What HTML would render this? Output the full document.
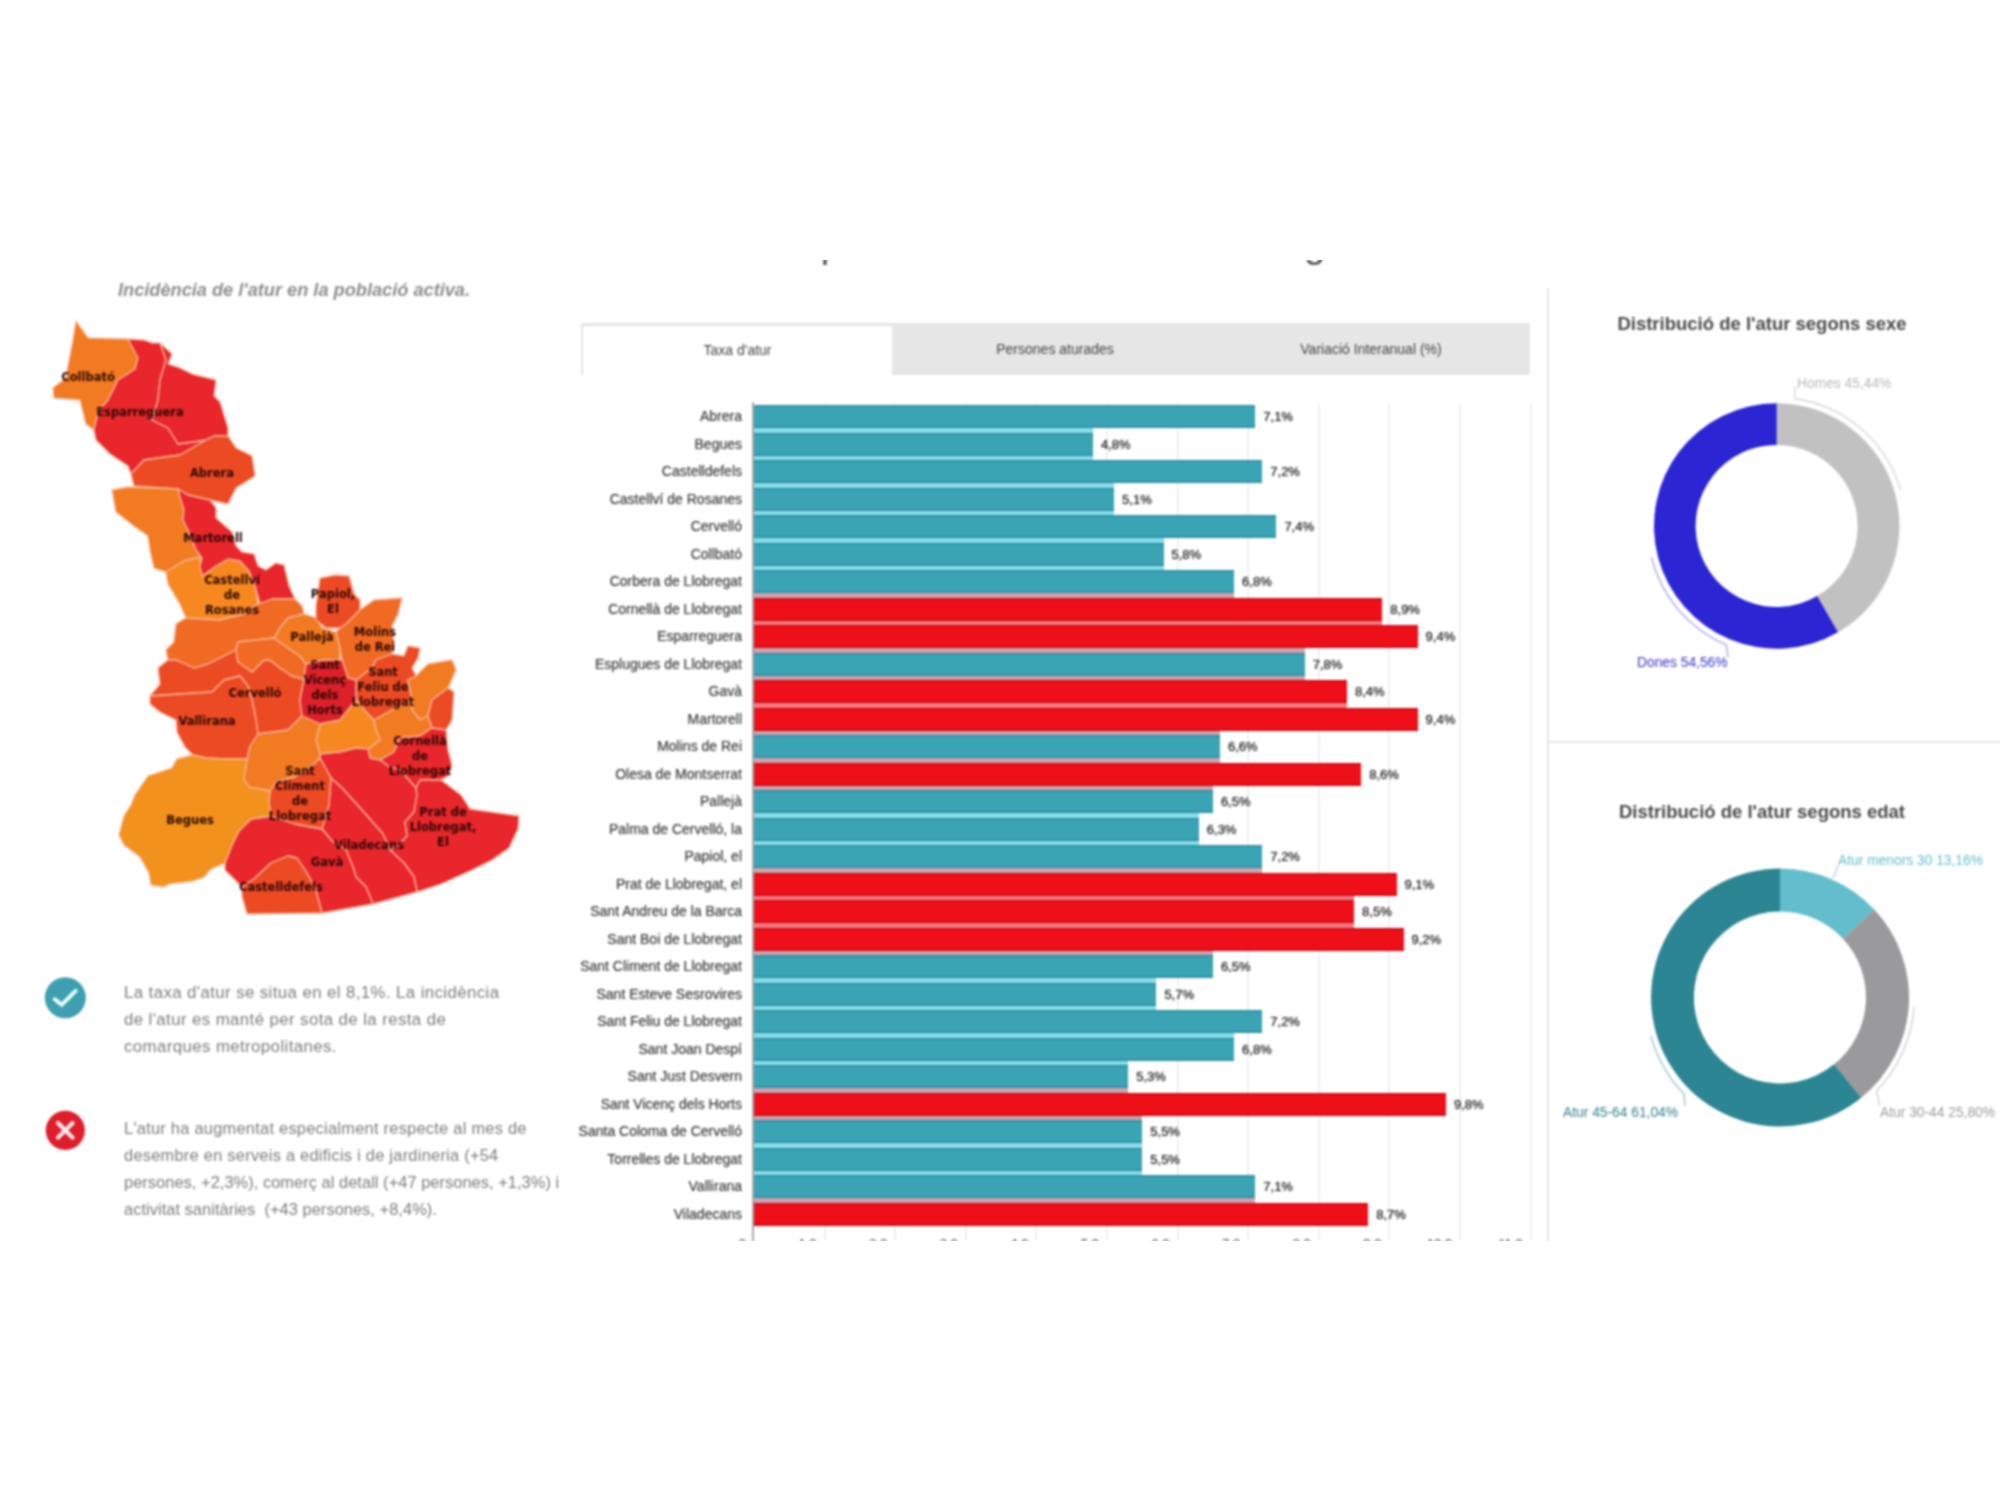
<!DOCTYPE html>
<html lang="ca"><head><meta charset="utf-8"><title>Atur Baix Llobregat</title>
<style>
html,body{margin:0;padding:0;background:#fff;}
body{width:2000px;height:1500px;position:relative;overflow:hidden;font-family:"Liberation Sans",sans-serif;color:#444;}
#stage{position:absolute;left:0;top:260px;width:2000px;height:981px;overflow:hidden;}
#inner{position:absolute;left:0;top:-260px;width:2000px;height:1500px;filter:blur(1.3px);}
.abs{position:absolute;}
#toptitle{left:778px;top:221.8px;width:800px;text-align:left;font-size:38.4px;line-height:44px;color:#555;white-space:nowrap;}
#subtitle{left:118px;top:279.5px;font-size:18.2px;font-style:italic;font-weight:bold;color:#8e8e8e;white-space:nowrap;}
#map{left:0;top:0;}
#map text{font-family:"DejaVu Sans","Liberation Sans",sans-serif;font-size:11.5px;font-weight:bold;fill:#2a0805;text-anchor:middle;}
#map polygon{stroke:#F8B59A;stroke-width:1.3;stroke-linejoin:round;}
.note{left:124px;width:470px;font-size:16.8px;letter-spacing:0.42px;line-height:27px;color:#7c7c7c;white-space:nowrap;}
#n2{font-size:16.4px;letter-spacing:0.26px;}
#n2 span{letter-spacing:0.05px;}
#tabs{left:581px;top:323px;width:949px;height:52px;background:#E6E6E6;}
#tabs .t{position:absolute;top:0;height:52px;line-height:52px;text-align:center;font-size:14px;color:#444;}
#tabs .t.on{background:#fff;left:1px;top:2px;width:310px;height:50px;line-height:48px;border:1.5px solid #e2e2e2;border-bottom:none;border-right:none;box-sizing:border-box;}
.row{position:absolute;left:0;height:23px;width:1560px;}
.row .lab{position:absolute;right:818px;top:0;line-height:23px;font-size:14px;color:#3c3c3c;text-shadow:0 0 1px rgba(60,60,60,.5);white-space:nowrap;}
.row .b{position:absolute;left:754px;top:0;height:23px;background:#3AA4B5;box-shadow:inset 0 2px 0 rgba(0,50,70,.15),inset 0 -2px 0 rgba(0,50,70,.15);}
.row .b.r{background:#EF0F18;box-shadow:inset 0 2px 0 rgba(120,0,20,.22),inset 0 -2px 0 rgba(120,0,20,.22);}
.gap{position:absolute;left:754px;height:5.5px;}
.row .val{position:absolute;top:0;line-height:23px;font-size:13px;color:#262626;text-shadow:0 0 1px rgba(40,40,40,.7);}
.grid{position:absolute;top:404px;height:836px;width:2px;background:#EFEFEF;}
#yaxis{left:752px;top:402px;width:2px;height:840px;background:#a8a8a8;}
.tick{position:absolute;top:1235.5px;width:40px;text-align:right;font-size:13px;line-height:16px;color:#555;}
#vline{left:1547px;top:288px;width:2px;height:954px;background:#E6E6E6;}
#hline{left:1548px;top:741px;width:452px;height:2px;background:#E6E6E6;}
.dt{position:absolute;left:1548px;width:428px;text-align:center;font-size:18.5px;font-weight:bold;color:#4a4a4a;white-space:nowrap;}
#donuts text{font-family:"Liberation Sans",sans-serif;font-size:13.8px;}
</style></head><body>
<div id="stage"><div id="inner">
<div class="abs" id="toptitle">Impacte de l'atur al Baix Llobregat</div>
<div class="abs" id="subtitle">Incidència de l'atur en la població activa.</div>
<svg class="abs" id="map" width="600" height="960" viewBox="0 0 600 960">
<polygon points="76.0,321.0 88.0,338.0 128.0,339.0 138.0,358.0 135.0,369.0 118.0,380.0 108.0,400.0 98.0,412.0 94.0,430.0 86.0,424.0 80.0,400.0 54.0,398.0 53.0,388.0 66.0,378.0 68.0,366.0 73.0,340.0" fill="#F27A21"/>
<polygon points="128.0,339.0 144.0,340.0 152.0,343.0 160.0,343.0 166.0,360.0 160.0,380.0 158.0,400.0 152.0,420.0 168.0,428.0 178.0,444.0 206.0,440.0 180.0,455.0 144.0,460.0 131.0,474.0 128.0,466.0 110.0,454.0 96.0,440.0 94.0,430.0 98.0,412.0 108.0,400.0 118.0,380.0 135.0,369.0 138.0,358.0" fill="#E8262B"/>
<polygon points="160.0,343.0 172.0,354.0 168.0,364.0 180.0,368.0 192.0,374.0 216.0,380.0 214.0,396.0 220.0,402.0 228.0,428.0 228.0,436.0 214.0,436.0 206.0,440.0 178.0,444.0 168.0,428.0 152.0,420.0 158.0,400.0 160.0,380.0 166.0,360.0" fill="#E8262B"/>
<polygon points="214.0,436.0 228.0,436.0 236.0,448.0 252.0,456.0 255.0,476.0 236.0,488.0 228.0,504.0 210.0,500.0 188.0,495.0 178.0,489.0 134.0,486.0 131.0,474.0 144.0,460.0 180.0,455.0 206.0,440.0" fill="#EC4A23"/>
<polygon points="112.0,490.0 128.0,487.0 178.0,489.0 180.0,497.0 184.0,510.0 183.0,520.0 188.0,530.0 196.0,550.0 202.0,558.0 200.0,566.0 200.0,557.0 184.0,561.0 166.0,572.0 154.0,568.0 150.0,550.0 148.0,536.0 134.0,526.0 116.0,512.0" fill="#F27A21"/>
<polygon points="166.0,572.0 184.0,561.0 200.0,557.0 202.0,576.0 216.0,566.0 228.0,559.0 240.0,561.0 249.0,571.0 255.0,586.0 258.0,604.0 244.0,614.0 220.0,620.0 186.0,618.0 180.0,604.0 168.0,584.0" fill="#F6881F"/>
<polygon points="178.0,489.0 188.0,495.0 210.0,500.0 216.0,508.0 216.0,518.0 232.0,532.0 236.0,546.0 242.0,552.0 254.0,554.0 258.0,566.0 266.0,570.0 276.0,563.0 284.0,565.0 289.0,586.0 295.0,599.0 272.0,599.0 260.0,604.0 255.0,586.0 249.0,571.0 240.0,561.0 228.0,559.0 216.0,566.0 202.0,576.0 200.0,566.0 202.0,558.0 196.0,550.0 188.0,530.0 183.0,520.0 184.0,510.0 180.0,497.0" fill="#E8262B"/>
<polygon points="176.0,624.0 186.0,618.0 220.0,620.0 244.0,614.0 258.0,604.0 272.0,599.0 295.0,599.0 302.0,606.0 304.0,614.0 288.0,618.0 280.0,628.0 274.0,638.0 238.0,642.0 236.0,650.0 220.0,658.0 208.0,664.0 194.0,668.0 176.0,660.0 168.0,660.0 166.0,650.0 174.0,642.0" fill="#F16A23"/>
<polygon points="158.0,668.0 168.0,660.0 176.0,660.0 194.0,668.0 208.0,664.0 220.0,658.0 236.0,650.0 238.0,662.0 252.0,672.0 264.0,660.0 270.0,660.0 280.0,668.0 292.0,676.0 300.0,678.0 304.0,680.0 300.0,700.0 302.0,716.0 288.0,730.0 258.0,734.0 256.0,720.0 252.0,700.0 248.0,686.0 240.0,676.0 224.0,680.0 212.0,692.0 150.0,696.0 160.0,684.0" fill="#EC4A23"/>
<polygon points="238.0,642.0 274.0,638.0 288.0,648.0 300.0,656.0 306.0,664.0 304.0,680.0 300.0,678.0 292.0,676.0 280.0,668.0 270.0,660.0 264.0,660.0 252.0,672.0 238.0,662.0 236.0,650.0" fill="#F16A23"/>
<polygon points="280.0,628.0 288.0,618.0 304.0,614.0 316.0,618.0 322.0,628.0 336.0,632.0 340.0,648.0 340.0,660.0 324.0,660.0 306.0,664.0 300.0,656.0 288.0,648.0 274.0,638.0" fill="#F27A21"/>
<polygon points="316.0,606.0 320.0,578.0 336.0,575.0 349.0,576.0 354.0,594.0 360.0,600.0 360.0,610.0 346.0,624.0 340.0,628.0 326.0,628.0 316.0,620.0" fill="#EC4A23"/>
<polygon points="360.0,610.0 374.0,600.0 402.0,598.0 398.0,614.0 392.0,626.0 394.0,644.0 392.0,654.0 376.0,660.0 372.0,668.0 356.0,680.0 348.0,678.0 342.0,660.0 340.0,648.0 336.0,632.0 340.0,628.0 346.0,624.0" fill="#F16A23"/>
<polygon points="376.0,660.0 392.0,654.0 404.0,656.0 408.0,646.0 420.0,648.0 418.0,658.0 412.0,668.0 416.0,676.0 408.0,680.0 412.0,700.0 392.0,710.0 374.0,720.0 368.0,714.0 356.0,700.0 356.0,680.0 372.0,668.0" fill="#EC4A23"/>
<polygon points="416.0,676.0 428.0,664.0 452.0,660.0 456.0,670.0 448.0,688.0 432.0,700.0 428.0,716.0 420.0,720.0 412.0,710.0 412.0,700.0 408.0,680.0" fill="#F27A21"/>
<polygon points="448.0,688.0 454.0,692.0 452.0,720.0 446.0,730.0 432.0,728.0 428.0,716.0 432.0,700.0" fill="#EC4A23"/>
<polygon points="374.0,720.0 392.0,710.0 412.0,700.0 412.0,710.0 420.0,720.0 428.0,716.0 432.0,728.0 420.0,736.0 400.0,738.0 394.0,752.0 380.0,760.0 370.0,758.0 368.0,749.0 380.0,740.0 376.0,730.0" fill="#F27A21"/>
<polygon points="306.0,664.0 324.0,660.0 340.0,660.0 342.0,660.0 348.0,678.0 356.0,680.0 356.0,700.0 348.0,710.0 340.0,720.0 320.0,724.0 302.0,716.0 300.0,700.0 304.0,680.0" fill="#DD2029"/>
<polygon points="320.0,724.0 340.0,720.0 348.0,710.0 356.0,700.0 368.0,714.0 374.0,720.0 376.0,730.0 380.0,740.0 368.0,749.0 356.0,748.0 340.0,752.0 320.0,754.0 316.0,740.0" fill="#F6881F"/>
<polygon points="394.0,752.0 400.0,738.0 420.0,736.0 432.0,728.0 446.0,730.0 448.0,750.0 452.0,766.0 448.0,776.0 440.0,780.0 420.0,780.0 416.0,788.0 400.0,770.0 388.0,766.0 380.0,760.0" fill="#E8262B"/>
<polygon points="320.0,754.0 340.0,752.0 356.0,748.0 368.0,749.0 370.0,758.0 380.0,760.0 388.0,766.0 400.0,770.0 416.0,788.0 417.0,795.0 414.0,812.0 405.0,822.0 407.0,836.0 399.0,845.0 390.0,850.0 383.0,834.0 361.0,809.0 342.0,788.0 331.0,778.0 320.0,758.0" fill="#E8262B"/>
<polygon points="416.0,788.0 420.0,780.0 441.0,780.0 461.0,795.0 470.0,809.0 519.0,816.0 518.0,829.0 509.0,848.0 492.0,860.0 472.0,870.0 441.0,884.0 417.0,892.0 414.0,877.0 404.0,863.0 390.0,850.0 399.0,845.0 407.0,836.0 405.0,822.0 414.0,812.0 417.0,795.0" fill="#E8262B"/>
<polygon points="331.0,778.0 342.0,788.0 361.0,809.0 383.0,834.0 390.0,850.0 404.0,863.0 414.0,877.0 417.0,892.0 373.0,904.0 366.0,887.0 356.0,877.0 353.0,867.0 346.0,850.0 332.0,841.0 322.0,829.0 329.0,805.0" fill="#E8262B"/>
<polygon points="251.0,819.0 271.0,816.0 295.0,824.0 322.0,829.0 332.0,841.0 346.0,850.0 353.0,867.0 356.0,877.0 366.0,887.0 373.0,904.0 322.0,913.0 315.0,887.0 305.0,870.0 297.0,858.0 288.0,856.0 271.0,863.0 254.0,879.0 242.0,887.0 225.0,870.0 225.0,863.0 232.0,845.0 239.0,831.0" fill="#E8262B"/>
<polygon points="242.0,887.0 254.0,879.0 271.0,863.0 288.0,856.0 297.0,858.0 305.0,870.0 315.0,887.0 322.0,913.0 247.0,914.0 242.0,896.0" fill="#EC4A23"/>
<polygon points="270.0,791.0 276.0,782.0 295.0,777.0 315.0,763.0 320.0,758.0 331.0,778.0 329.0,805.0 322.0,829.0 295.0,824.0 271.0,816.0 269.0,802.0" fill="#EC4A23"/>
<polygon points="258.0,734.0 288.0,730.0 302.0,716.0 320.0,724.0 316.0,740.0 320.0,754.0 320.0,758.0 315.0,763.0 295.0,777.0 276.0,782.0 270.0,791.0 249.0,787.0 244.0,779.0 247.0,759.0 250.0,746.0" fill="#F27A21"/>
<polygon points="150.0,696.0 212.0,692.0 224.0,680.0 240.0,676.0 248.0,686.0 252.0,700.0 256.0,720.0 258.0,734.0 250.0,746.0 247.0,759.0 224.0,759.0 206.0,758.0 193.0,755.0 185.0,747.0 177.0,732.0 176.0,720.0 160.0,712.0 150.0,704.0" fill="#EC4A23"/>
<polygon points="177.0,759.0 193.0,755.0 206.0,758.0 224.0,759.0 247.0,759.0 244.0,779.0 249.0,787.0 270.0,791.0 269.0,802.0 271.0,816.0 251.0,819.0 239.0,831.0 232.0,845.0 225.0,863.0 211.0,869.0 204.0,877.0 193.0,881.0 169.0,884.0 164.0,887.0 151.0,885.0 149.0,873.0 140.0,857.0 124.0,845.0 119.0,835.0 124.0,816.0 131.0,805.0 135.0,795.0 148.0,776.0 172.0,768.0" fill="#F2921C"/>
<text x="88" y="381.0">Collbató</text>
<text x="140" y="416.0">Esparreguera</text>
<text x="212" y="477.0">Abrera</text>
<text x="213" y="542.0">Martorell</text>
<text x="232" y="584.0">Castellví</text>
<text x="232" y="599.0">de</text>
<text x="232" y="614.0">Rosanes</text>
<text x="333" y="598.0">Papiol,</text>
<text x="333" y="613.0">El</text>
<text x="312" y="641.0">Pallejà</text>
<text x="375" y="636.0">Molins</text>
<text x="375" y="651.0">de Rei</text>
<text x="325" y="669.0">Sant</text>
<text x="325" y="684.0">Vicenç</text>
<text x="325" y="699.0">dels</text>
<text x="325" y="714.0">Horts</text>
<text x="383" y="676.0">Sant</text>
<text x="383" y="691.0">Feliu de</text>
<text x="383" y="706.0">Llobregat</text>
<text x="255" y="697.0">Cervelló</text>
<text x="207" y="725.0">Vallirana</text>
<text x="420" y="745.0">Cornellà</text>
<text x="420" y="760.0">de</text>
<text x="420" y="775.0">Llobregat</text>
<text x="300" y="775.0">Sant</text>
<text x="300" y="790.0">Climent</text>
<text x="300" y="805.0">de</text>
<text x="300" y="820.0">Llobregat</text>
<text x="190" y="824.0">Begues</text>
<text x="443" y="816.0">Prat de</text>
<text x="443" y="831.0">Llobregat,</text>
<text x="443" y="846.0">El</text>
<text x="369" y="849.0">Viladecans</text>
<text x="327" y="866.0">Gavà</text>
<text x="281" y="891.0">Castelldefels</text>
</svg>
<svg class="abs" style="left:40px;top:970px" width="50" height="190" viewBox="40 970 50 190">
<circle cx="65.3" cy="997.7" r="20.5" fill="#3D9FAF"/>
<path d="M54.8,999.3 L61.6,1004.8 L75.6,990.8" fill="none" stroke="#e9fbfd" stroke-width="4" stroke-linecap="round" stroke-linejoin="round"/>
<circle cx="65.3" cy="1130.3" r="19.6" fill="#DF1E2B"/>
<path d="M58,1123 l14.6,14.6 M72.6,1123 l-14.6,14.6" fill="none" stroke="#fdeeee" stroke-width="4" stroke-linecap="round"/>
</svg>
<div class="abs note" id="n1" style="top:979px">La taxa d'atur se situa en el 8,1%. La incidència<br>de l'atur es manté per sota de la resta de<br>comarques metropolitanes.</div>
<div class="abs note" id="n2" style="top:1115px">L'atur ha augmentat especialment respecte al mes de<br>desembre en serveis a edificis i de jardineria (+54<br><span>persones, +2,3%), comerç al detall (+47 persones, +1,3%) i<br>activitat sanitàries&nbsp; (+43 persones, +8,4%).</span></div>
<div class="abs" id="tabs"><div class="t on">Taxa d'atur</div><div class="t" style="left:316px;width:316px">Persones aturades</div><div class="t" style="left:632px;width:316px">Variació Interanual (%)</div></div>
<div class="grid" style="left:823.6px"></div>
<div class="grid" style="left:894.2px"></div>
<div class="grid" style="left:964.8px"></div>
<div class="grid" style="left:1035.4px"></div>
<div class="grid" style="left:1106.0px"></div>
<div class="grid" style="left:1176.6px"></div>
<div class="grid" style="left:1247.2px"></div>
<div class="grid" style="left:1317.8px"></div>
<div class="grid" style="left:1388.4px"></div>
<div class="grid" style="left:1459.0px"></div>
<div class="grid" style="left:1529.6px"></div>
<div class="abs" id="yaxis"></div>
<div class="gap" style="top:427.5px;width:338.9px;background:#86DCEA"></div>
<div class="gap" style="top:455.0px;width:338.9px;background:#86DCEA"></div>
<div class="gap" style="top:482.5px;width:360.1px;background:#86DCEA"></div>
<div class="gap" style="top:510.0px;width:360.1px;background:#86DCEA"></div>
<div class="gap" style="top:537.5px;width:409.5px;background:#86DCEA"></div>
<div class="gap" style="top:565.0px;width:409.5px;background:#86DCEA"></div>
<div class="gap" style="top:592.5px;width:480.1px;background:#CDA3AE"></div>
<div class="gap" style="top:620.0px;width:628.3px;background:#F27A80"></div>
<div class="gap" style="top:647.5px;width:550.7px;background:#CDA3AE"></div>
<div class="gap" style="top:675.0px;width:550.7px;background:#CDA3AE"></div>
<div class="gap" style="top:702.5px;width:593.0px;background:#F27A80"></div>
<div class="gap" style="top:730.0px;width:466.0px;background:#CDA3AE"></div>
<div class="gap" style="top:757.5px;width:466.0px;background:#CDA3AE"></div>
<div class="gap" style="top:785.0px;width:458.9px;background:#CDA3AE"></div>
<div class="gap" style="top:812.5px;width:444.8px;background:#86DCEA"></div>
<div class="gap" style="top:840.0px;width:444.8px;background:#86DCEA"></div>
<div class="gap" style="top:867.5px;width:508.3px;background:#CDA3AE"></div>
<div class="gap" style="top:895.0px;width:600.1px;background:#F27A80"></div>
<div class="gap" style="top:922.5px;width:600.1px;background:#F27A80"></div>
<div class="gap" style="top:950.0px;width:458.9px;background:#CDA3AE"></div>
<div class="gap" style="top:977.5px;width:402.4px;background:#86DCEA"></div>
<div class="gap" style="top:1005.0px;width:402.4px;background:#86DCEA"></div>
<div class="gap" style="top:1032.5px;width:480.1px;background:#86DCEA"></div>
<div class="gap" style="top:1060.0px;width:374.2px;background:#86DCEA"></div>
<div class="gap" style="top:1087.5px;width:374.2px;background:#CDA3AE"></div>
<div class="gap" style="top:1115.0px;width:388.3px;background:#CDA3AE"></div>
<div class="gap" style="top:1142.5px;width:388.3px;background:#86DCEA"></div>
<div class="gap" style="top:1170.0px;width:388.3px;background:#86DCEA"></div>
<div class="gap" style="top:1197.5px;width:501.3px;background:#CDA3AE"></div>
<div class="row" style="top:405.0px"><span class="lab">Abrera</span><span class="b" style="width:501.3px"></span><span class="val" style="left:1263.3px">7,1%</span></div>
<div class="row" style="top:432.5px"><span class="lab">Begues</span><span class="b" style="width:338.9px"></span><span class="val" style="left:1100.9px">4,8%</span></div>
<div class="row" style="top:460.0px"><span class="lab">Castelldefels</span><span class="b" style="width:508.3px"></span><span class="val" style="left:1270.3px">7,2%</span></div>
<div class="row" style="top:487.5px"><span class="lab">Castellví de Rosanes</span><span class="b" style="width:360.1px"></span><span class="val" style="left:1122.1px">5,1%</span></div>
<div class="row" style="top:515.0px"><span class="lab">Cervelló</span><span class="b" style="width:522.4px"></span><span class="val" style="left:1284.4px">7,4%</span></div>
<div class="row" style="top:542.5px"><span class="lab">Collbató</span><span class="b" style="width:409.5px"></span><span class="val" style="left:1171.5px">5,8%</span></div>
<div class="row" style="top:570.0px"><span class="lab">Corbera de Llobregat</span><span class="b" style="width:480.1px"></span><span class="val" style="left:1242.1px">6,8%</span></div>
<div class="row" style="top:597.5px"><span class="lab">Cornellà de Llobregat</span><span class="b r" style="width:628.3px"></span><span class="val" style="left:1390.3px">8,9%</span></div>
<div class="row" style="top:625.0px"><span class="lab">Esparreguera</span><span class="b r" style="width:663.6px"></span><span class="val" style="left:1425.6px">9,4%</span></div>
<div class="row" style="top:652.5px"><span class="lab">Esplugues de Llobregat</span><span class="b" style="width:550.7px"></span><span class="val" style="left:1312.7px">7,8%</span></div>
<div class="row" style="top:680.0px"><span class="lab">Gavà</span><span class="b r" style="width:593.0px"></span><span class="val" style="left:1355.0px">8,4%</span></div>
<div class="row" style="top:707.5px"><span class="lab">Martorell</span><span class="b r" style="width:663.6px"></span><span class="val" style="left:1425.6px">9,4%</span></div>
<div class="row" style="top:735.0px"><span class="lab">Molins de Rei</span><span class="b" style="width:466.0px"></span><span class="val" style="left:1228.0px">6,6%</span></div>
<div class="row" style="top:762.5px"><span class="lab">Olesa de Montserrat</span><span class="b r" style="width:607.2px"></span><span class="val" style="left:1369.2px">8,6%</span></div>
<div class="row" style="top:790.0px"><span class="lab">Pallejà</span><span class="b" style="width:458.9px"></span><span class="val" style="left:1220.9px">6,5%</span></div>
<div class="row" style="top:817.5px"><span class="lab">Palma de Cervelló, la</span><span class="b" style="width:444.8px"></span><span class="val" style="left:1206.8px">6,3%</span></div>
<div class="row" style="top:845.0px"><span class="lab">Papiol, el</span><span class="b" style="width:508.3px"></span><span class="val" style="left:1270.3px">7,2%</span></div>
<div class="row" style="top:872.5px"><span class="lab">Prat de Llobregat, el</span><span class="b r" style="width:642.5px"></span><span class="val" style="left:1404.5px">9,1%</span></div>
<div class="row" style="top:900.0px"><span class="lab">Sant Andreu de la Barca</span><span class="b r" style="width:600.1px"></span><span class="val" style="left:1362.1px">8,5%</span></div>
<div class="row" style="top:927.5px"><span class="lab">Sant Boi de Llobregat</span><span class="b r" style="width:649.5px"></span><span class="val" style="left:1411.5px">9,2%</span></div>
<div class="row" style="top:955.0px"><span class="lab">Sant Climent de Llobregat</span><span class="b" style="width:458.9px"></span><span class="val" style="left:1220.9px">6,5%</span></div>
<div class="row" style="top:982.5px"><span class="lab">Sant Esteve Sesrovires</span><span class="b" style="width:402.4px"></span><span class="val" style="left:1164.4px">5,7%</span></div>
<div class="row" style="top:1010.0px"><span class="lab">Sant Feliu de Llobregat</span><span class="b" style="width:508.3px"></span><span class="val" style="left:1270.3px">7,2%</span></div>
<div class="row" style="top:1037.5px"><span class="lab">Sant Joan Despí</span><span class="b" style="width:480.1px"></span><span class="val" style="left:1242.1px">6,8%</span></div>
<div class="row" style="top:1065.0px"><span class="lab">Sant Just Desvern</span><span class="b" style="width:374.2px"></span><span class="val" style="left:1136.2px">5,3%</span></div>
<div class="row" style="top:1092.5px"><span class="lab">Sant Vicenç dels Horts</span><span class="b r" style="width:691.9px"></span><span class="val" style="left:1453.9px">9,8%</span></div>
<div class="row" style="top:1120.0px"><span class="lab">Santa Coloma de Cervelló</span><span class="b" style="width:388.3px"></span><span class="val" style="left:1150.3px">5,5%</span></div>
<div class="row" style="top:1147.5px"><span class="lab">Torrelles de Llobregat</span><span class="b" style="width:388.3px"></span><span class="val" style="left:1150.3px">5,5%</span></div>
<div class="row" style="top:1175.0px"><span class="lab">Vallirana</span><span class="b" style="width:501.3px"></span><span class="val" style="left:1263.3px">7,1%</span></div>
<div class="row" style="top:1202.5px"><span class="lab">Viladecans</span><span class="b r" style="width:614.2px"></span><span class="val" style="left:1376.2px">8,7%</span></div>
<span class="tick" style="left:706.0px">0</span>
<span class="tick" style="left:776.6px">1,0</span>
<span class="tick" style="left:847.2px">2,0</span>
<span class="tick" style="left:917.8px">3,0</span>
<span class="tick" style="left:988.4px">4,0</span>
<span class="tick" style="left:1059.0px">5,0</span>
<span class="tick" style="left:1129.6px">6,0</span>
<span class="tick" style="left:1200.2px">7,0</span>
<span class="tick" style="left:1270.8px">8,0</span>
<span class="tick" style="left:1341.4px">9,0</span>
<span class="tick" style="left:1412.0px">10,0</span>
<span class="tick" style="left:1482.6px">11,0</span>
<div class="abs" id="vline"></div><div class="abs" id="hline"></div>
<div class="dt" style="top:313px">Distribució de l'atur segons sexe</div>
<div class="dt" style="top:801px">Distribució de l'atur segons edat</div>
<svg class="abs" id="donuts" style="left:1548px;top:340px" width="452" height="900" viewBox="1548 340 452 900">
<path d="M1776.7,403.3 A122.7,122.7 0 0 1 1838.0,632.3 L1817.2,596.1 A81.0,81.0 0 0 0 1776.7,445.0 Z" fill="#C1C1C1"/><path d="M1838.0,632.3 A122.7,122.7 0 1 1 1776.7,403.3 L1776.7,445.0 A81.0,81.0 0 1 0 1817.2,596.1 Z" fill="#2C25D3"/>
<path d="M1795,386 L1794.7,398.6 A129,129 0 0 1 1900.7,490.7" fill="none" stroke="#dcdcdc" stroke-width="1.6"/>
<text x="1797" y="388" fill="#b9b9b9">Homes 45,44%</text>
<path d="M1651.5,557.5 A129,129 0 0 0 1726.3,645 L1728,657" fill="none" stroke="#b4b2ec" stroke-width="1.6"/>
<text x="1637" y="667" fill="#3a34c8">Dones 54,56%</text>
<path d="M1780.0,868.5 A129.0,129.0 0 0 1 1874.3,909.5 L1842.9,938.8 A86.0,86.0 0 0 0 1780.0,911.5 Z" fill="#62BECC"/><path d="M1874.3,909.5 A129.0,129.0 0 0 1 1861.2,1097.8 L1834.1,1064.3 A86.0,86.0 0 0 0 1842.9,938.8 Z" fill="#9A9A9C"/><path d="M1861.2,1097.8 A129.0,129.0 0 1 1 1780.0,868.5 L1780.0,911.5 A86.0,86.0 0 1 0 1834.1,1064.3 Z" fill="#2C8593"/>
<path d="M1838,866 L1833,878" fill="none" stroke="#a8dbe3" stroke-width="1.6"/>
<text x="1838" y="865" fill="#62BECC">Atur menors 30 13,16%</text>
<path d="M1914,1007 A134,134 0 0 1 1876.4,1091 L1880,1106" fill="none" stroke="#d6d6d6" stroke-width="1.6"/>
<text x="1880" y="1117" fill="#9c9c9c">Atur 30-44 25,80%</text>
<path d="M1651,1036 A134,134 0 0 0 1684,1094 L1685,1106" fill="none" stroke="#a9cdd3" stroke-width="1.6"/>
<text x="1563" y="1117" fill="#35808c">Atur 45-64 61,04%</text>
</svg>
</div></div>
</body></html>
